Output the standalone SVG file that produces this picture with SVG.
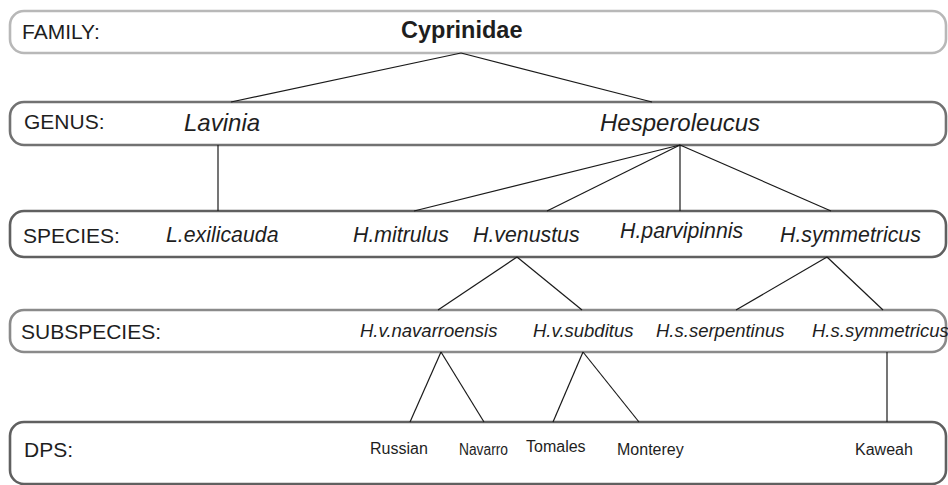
<svg xmlns="http://www.w3.org/2000/svg" width="948" height="485" viewBox="0 0 948 485">
<style>
  text { font-family: "Liberation Sans", Arial, sans-serif; fill: #1e1e1e; }
  .lbl { font-size: 21px; }
  .gen { font-size: 24px; font-style: italic; }
  .sp { font-size: 21.3px; font-style: italic; }
  .ssp { font-size: 18.5px; font-style: italic; }
  .dps { font-size: 16px; }
  .box { fill: #ffffff; stroke-width: 2.6; }
  .conn line { stroke: #1a1a1a; stroke-width: 1.2; }
</style>
<rect width="948" height="485" fill="#ffffff"/>

<g id="row-family">
  <rect class="box" x="10" y="11" width="936" height="42" rx="14" ry="14" stroke="#b8b8b8"/>
  <text class="lbl" x="22" y="39">FAMILY:</text>
</g>
<g id="row-genus">
  <rect class="box" x="10" y="102" width="936" height="43" rx="14" ry="14" stroke="#727272"/>
  <text class="lbl" x="24" y="129">GENUS:</text>
</g>
<g id="row-species">
  <rect class="box" x="10" y="211" width="936" height="46" rx="14" ry="14" stroke="#606060"/>
  <text class="lbl" x="23" y="243">SPECIES:</text>
</g>
<g id="row-subspecies">
  <rect class="box" x="10" y="310" width="936" height="42" rx="14" ry="14" stroke="#8a8a8a"/>
  <text class="lbl" x="21" y="339">SUBSPECIES:</text>
</g>
<g id="row-dps">
  <rect class="box" x="10" y="422" width="936" height="62" rx="14" ry="14" stroke="#606060"/>
  <text class="lbl" x="24" y="457">DPS:</text>
</g>

<g id="connectors" class="conn">
  <line x1="461" y1="53" x2="231" y2="102"/>
  <line x1="461" y1="53" x2="652" y2="102"/>
  <line x1="218" y1="145" x2="218" y2="211"/>
  <line x1="680" y1="145" x2="414" y2="211"/>
  <line x1="680" y1="145" x2="547" y2="211"/>
  <line x1="680" y1="145" x2="680" y2="211"/>
  <line x1="680" y1="145" x2="831" y2="211"/>
  <line x1="517" y1="257" x2="438" y2="310"/>
  <line x1="517" y1="257" x2="582" y2="310"/>
  <line x1="827" y1="257" x2="736" y2="310"/>
  <line x1="827" y1="257" x2="883" y2="310"/>
  <line x1="441" y1="352" x2="410" y2="422"/>
  <line x1="441" y1="352" x2="484" y2="422"/>
  <line x1="583" y1="352" x2="553" y2="422"/>
  <line x1="583" y1="352" x2="639" y2="422"/>
  <line x1="887" y1="352" x2="887" y2="422"/>
</g>

<g id="cyprinidae"><text x="401" y="38" font-size="23.5" font-weight="bold">Cyprinidae</text></g>

<g id="lavinia"><text class="gen" x="184" y="131">Lavinia</text></g>
<g id="hesperoleucus"><text class="gen" x="600" y="131">Hesperoleucus</text></g>

<g id="l-exilicauda"><text class="sp" x="166" y="242">L.exilicauda</text></g>
<g id="h-mitrulus"><text class="sp" x="353" y="242">H.mitrulus</text></g>
<g id="h-venustus"><text class="sp" x="473" y="242">H.venustus</text></g>
<g id="h-parvipinnis"><text class="sp" x="620" y="238">H.parvipinnis</text></g>
<g id="h-symmetricus"><text class="sp" x="780" y="242">H.symmetricus</text></g>

<g id="h-v-navarroensis"><text class="ssp" x="360" y="337">H.v.navarroensis</text></g>
<g id="h-v-subditus"><text class="ssp" x="533" y="337">H.v.subditus</text></g>
<g id="h-s-serpentinus"><text class="ssp" x="656" y="337">H.s.serpentinus</text></g>
<g id="h-s-symmetricus"><text class="ssp" x="812" y="337">H.s.symmetricus</text></g>

<g id="russian"><text class="dps" x="370" y="454">Russian</text></g>
<g id="navarro"><text class="dps" x="459" y="455" textLength="49" lengthAdjust="spacingAndGlyphs">Navarro</text></g>
<g id="tomales"><text class="dps" x="526" y="452">Tomales</text></g>
<g id="monterey"><text class="dps" x="617" y="455">Monterey</text></g>
<g id="kaweah"><text class="dps" x="855" y="455">Kaweah</text></g>
</svg>
